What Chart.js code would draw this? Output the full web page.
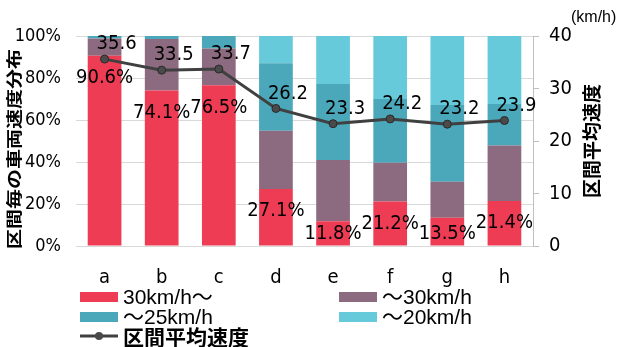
<!DOCTYPE html>
<html>
<head>
<meta charset="utf-8">
<script src="https://cdn.jsdelivr.net/npm/chart.js@4/dist/chart.umd.min.js"></script>
<style>
  html, body { margin: 0; padding: 0; background: #fff; }
  #wrap { width: 622px; height: 347px; }
</style>
</head>
<body>
<div id="wrap"><canvas id="c" width="622" height="347"></canvas></div>
<script>
// ---- data ----
const categories = ['a', 'b', 'c', 'd', 'e', 'f', 'g', 'h'];
const seriesNames = ['30km/h～', '～30km/h', '～25km/h', '～20km/h', '区間平均速度'];
const share30plus  = [90.6, 74.1, 76.5, 27.1, 11.8, 21.2, 13.5, 21.4];
const share25to30  = [8.2, 24.5, 17.5, 27.8, 29.2, 18.5, 17.1, 26.5];
const share20to25  = [1.2, 1.4, 6.0, 32.1, 36.1, 30.3, 36.5, 19.7];
const shareUnder20 = [0, 0, 0, 13.0, 22.9, 30.0, 32.9, 32.4];
const avgSpeed     = [35.6, 33.5, 33.7, 26.2, 23.3, 24.2, 23.2, 23.9];
const leftTitle  = '区間毎の車両速度分布';
const rightTitle = '区間平均速度';
const rightUnit  = '(km/h)';

// ---- styles ----
const NUM = '"Liberation Sans Narrow", "Arial Narrow", "DejaVu Sans Condensed", sans-serif';
const LAT = '"Liberation Sans", "Noto Sans CJK JP", sans-serif';
const CJK = '"Noto Sans CJK JP", sans-serif';
const colors = ['#EE3C54', '#8C6A7F', '#4BA7BA', '#67CADB'];

const decor = {
  id: 'decor',
  afterDraw(chart) {
    const ctx = chart.ctx;
    const area = chart.chartArea;
    ctx.save();
    ctx.fillStyle = '#000';
    ctx.textAlign = 'center';
    ctx.textBaseline = 'middle';

    // percent labels on the red segment
    ctx.font = '20px ' + NUM;
    const redMeta = chart.getDatasetMeta(0);
    redMeta.data.forEach((el, i) => {
      const y = Math.min(el.y + 22, area.bottom - 12);
      ctx.fillText(share30plus[i].toFixed(1) + '%', el.x, y);
    });

    // average speed labels
    const lineMeta = chart.getDatasetMeta(4);
    lineMeta.data.forEach((el, i) => {
      ctx.fillText(avgSpeed[i].toFixed(1), el.x + 12, el.y - 15);
    });

    // left axis title (rotated)
    ctx.save();
    ctx.translate(14, 149);
    ctx.rotate(-Math.PI / 2);
    ctx.scale(1, 0.8);
    ctx.font = 'bold 20px ' + CJK;
    ctx.fillText(leftTitle, 0, 0);
    ctx.restore();

    // right axis title (rotated)
    ctx.save();
    ctx.translate(592, 141);
    ctx.rotate(-Math.PI / 2);
    ctx.font = 'bold 19px ' + CJK;
    ctx.fillText(rightTitle, 0, 0);
    ctx.restore();

    // unit
    ctx.font = '16px ' + LAT;
    ctx.textAlign = 'left';
    ctx.fillText(rightUnit, 571, 18);

    // legend
    const cols = [80, 339];
    const rows = [297, 317, 336];
    const ds = chart.data.datasets;
    const place = [[0, 0], [1, 0], [0, 1], [1, 1], [0, 2]];
    ds.forEach((d, i) => {
      const [c, r] = place[i];
      const x = cols[c], y = rows[r];
      if (d.type === 'line') {
        ctx.strokeStyle = d.borderColor;
        ctx.lineWidth = 3;
        ctx.beginPath(); ctx.moveTo(x, y); ctx.lineTo(x + 38, y); ctx.stroke();
        ctx.fillStyle = d.pointBackgroundColor;
        ctx.beginPath(); ctx.arc(x + 19, y, 4, 0, Math.PI * 2); ctx.fill();
      } else {
        ctx.fillStyle = d.backgroundColor;
        ctx.fillRect(x, y - 5, 38, 10);
      }
      ctx.fillStyle = '#000';
      ctx.textAlign = 'left';
      const allCjk = /^[\u3000-\u9fff]+$/.test(d.label);
      ctx.font = allCjk ? 'bold 21px ' + CJK : '21px ' + LAT;
      ctx.fillText(d.label, x + 43, y + 1);
    });
    ctx.restore();
  }
};

const barCommon = { type: 'bar', yAxisID: 'y', stack: 's', order: 1,
  categoryPercentage: 1.0, barPercentage: 0.59, borderWidth: 0 };

new Chart(document.getElementById('c'), {
  data: {
    labels: categories,
    datasets: [
      Object.assign({ label: seriesNames[0], data: share30plus,  backgroundColor: colors[0] }, barCommon),
      Object.assign({ label: seriesNames[1], data: share25to30,  backgroundColor: colors[1] }, barCommon),
      Object.assign({ label: seriesNames[2], data: share20to25,  backgroundColor: colors[2] }, barCommon),
      Object.assign({ label: seriesNames[3], data: shareUnder20, backgroundColor: colors[3] }, barCommon),
      { type: 'line', label: seriesNames[4], data: avgSpeed, yAxisID: 'y2', order: 0,
        borderColor: '#404040', borderWidth: 3, tension: 0,
        pointRadius: 4, pointBackgroundColor: '#4a4a4a', pointBorderColor: '#2a2a2a', pointBorderWidth: 1 }
    ]
  },
  options: {
    responsive: false,
    devicePixelRatio: 1,
    animation: false,
    layout: { padding: { top: 36, left: 0, right: 0, bottom: 0 } },
    plugins: { legend: { display: false }, tooltip: { enabled: false } },
    scales: {
      x: {
        stacked: true,
        grid: { display: false },
        border: { display: false },
        ticks: { color: '#000', font: { family: NUM, size: 20 }, padding: 12 },
        afterFit(s) { s.height = 101; }
      },
      y: {
        stacked: true, min: 0, max: 100,
        grid: { color: '#d9d9d9', drawTicks: false },
        border: { display: false },
        ticks: { stepSize: 20, color: '#000', font: { family: NUM, size: 18 }, padding: 15,
                 callback: v => v + '%' },
        afterFit(s) { s.width = 76; }
      },
      y2: {
        position: 'right', min: 0, max: 40,
        grid: { drawOnChartArea: false, drawTicks: true, tickLength: 6, color: '#bfbfbf' },
        border: { display: true, color: '#bfbfbf' },
        ticks: { stepSize: 10, color: '#000', font: { family: NUM, size: 20 }, padding: 10 },
        afterFit(s) { s.width = 89; }
      }
    }
  },
  plugins: [decor]
});
</script>
</body>
</html>
